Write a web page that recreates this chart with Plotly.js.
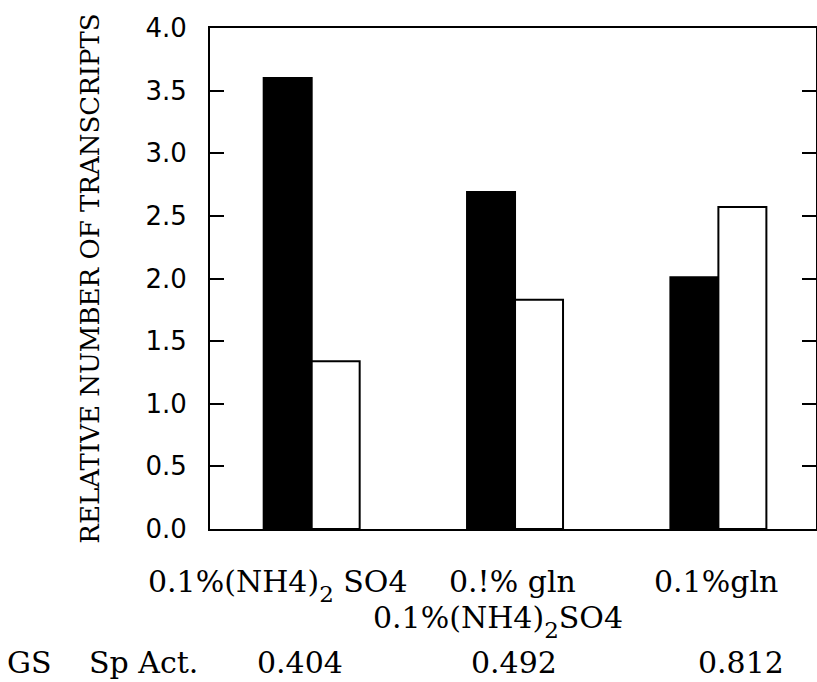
<!DOCTYPE html>
<html>
<head>
<meta charset="utf-8">
<script src="https://cdn.plot.ly/plotly-3.0.1.min.js"></script>
<style>
  html, body { margin: 0; padding: 0; background: #fff; }
  #chart { width: 817px; height: 682px; }
</style>
</head>
<body>
<div id="chart"></div>
<script>
// Growth conditions (one group of bars each)
const conditions = ["0.1%(NH4)2SO4", "0.!% gln + 0.1%(NH4)2SO4", "0.1%gln"];
// Relative number of transcripts, filled and open bars
const filledValues = [3.60, 2.69, 2.01];
const openValues = [1.34, 1.83, 2.57];
// GS specific activity under each condition
const specActivity = ["0.404", "0.492", "0.812"];
const yTicks = [0, 0.5, 1.0, 1.5, 2.0, 2.5, 3.0, 3.5, 4.0];

const serif = "DejaVu Serif, Liberation Serif, serif";
const sans = "DejaVu Sans, Liberation Sans, sans-serif";

// dropped subscript used in the ammonium sulphate labels
const SUB2 = '<span style="font-size:23px;baseline-shift:-10px">2</span>';

const traces = [
  {
    type: "bar", name: "filled", x: conditions, y: filledValues,
    marker: { color: "#000", line: { color: "#000", width: 2 } },
    hoverinfo: "y"
  },
  {
    type: "bar", name: "open", x: conditions, y: openValues,
    marker: { color: "#fff", line: { color: "#000", width: 2 } },
    hoverinfo: "y"
  }
];

// text helper: label tied to a category, top edge given in pixels below the x axis
function label(text, cat, dx, dy, anchor) {
  return {
    text: text, xref: "x", yref: "paper", x: cat, y: 0,
    xshift: dx, yshift: dy, xanchor: anchor, yanchor: "top",
    borderpad: 0, showarrow: false,
    font: { family: serif, size: 30, color: "#000" }
  };
}
function sideLabel(text, xp, dy) {
  return {
    text: text, xref: "paper", yref: "paper", x: xp, y: 0,
    yshift: dy, xanchor: "left", yanchor: "top",
    borderpad: 0, showarrow: false,
    font: { family: serif, size: 30, color: "#000" }
  };
}

const row1 = -34, row2 = -70, row3 = -115;
const annotations = [
  label("0.1%(NH4)" + SUB2 + " SO4", conditions[0], -165, row1, "left"),
  label("0.!% gln", conditions[1], -3, row1, "center"),
  label("0.1%(NH4)" + SUB2 + "SO4", conditions[1], -143, row2, "left"),
  label("0.1%gln", conditions[2], -2, row1, "center"),
  // specific activity row
  sideLabel("GS", -0.337, row3),
  sideLabel("Sp Act.", -0.202, row3),
  label(specActivity[0], conditions[0], -12, row3, "center"),
  label(specActivity[1], conditions[1], -1, row3, "center"),
  label(specActivity[2], conditions[2], 23, row3, "center")
];

const layout = {
  width: 817, height: 682,
  margin: { l: 210, r: 1, t: 28, b: 153 },
  paper_bgcolor: "#fff", plot_bgcolor: "#fff",
  showlegend: false,
  barmode: "group", bargap: 0.528, bargroupgap: 0,
  xaxis: {
    type: "category", range: [-0.5, 2.48],
    showticklabels: false, ticks: "",
    showline: true, mirror: true, linecolor: "#000", linewidth: 2,
    showgrid: false, zeroline: false, fixedrange: true
  },
  yaxis: {
    range: [0, 4], tickvals: yTicks, tickformat: ".1f",
    ticks: "inside", ticklen: 14, tickwidth: 2, tickcolor: "#000",
    showline: true, mirror: "ticks", linecolor: "#000", linewidth: 2,
    showgrid: false, zeroline: false, fixedrange: true,
    tickfont: { family: sans, size: 26, color: "#000" },
    ticklabelstandoff: 16,
    title: {
      text: "RELATIVE NUMBER OF TRANSCRIPTS",
      font: { family: serif, size: 26, color: "#000" },
      standoff: 38
    }
  },
  annotations: annotations
};

Plotly.newPlot("chart", traces, layout, { displayModeBar: false, staticPlot: true });
</script>
</body>
</html>
